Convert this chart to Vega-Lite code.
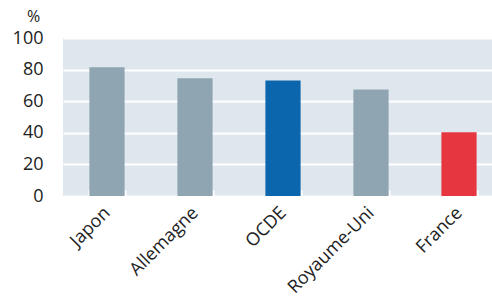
{
  "$schema": "https://vega.github.io/schema/vega-lite/v6.json",
  "autosize": "none",
  "width": 429,
  "height": 158,
  "padding": {"left": 63, "top": 38, "right": 0, "bottom": 101},
  "background": "white",
  "config": {
    "view": {"fill": "#DEE7EE", "stroke": null},
    "font": "Open Sans"
  },
  "data": {
    "values": [
      {"pays": "Japon", "valeur": 81.5, "groupe": "autre"},
      {"pays": "Allemagne", "valeur": 74.5, "groupe": "autre"},
      {"pays": "OCDE", "valeur": 73.1, "groupe": "OCDE"},
      {"pays": "Royaume-Uni", "valeur": 67.4, "groupe": "autre"},
      {"pays": "France", "valeur": 40.3, "groupe": "France"}
    ]
  },
  "mark": {"type": "bar", "clip": true},
  "encoding": {
    "x": {
      "field": "pays",
      "type": "nominal",
      "sort": null,
      "scale": {"range": [0, 440], "paddingInner": 0.6, "paddingOuter": 0.3},
      "axis": {
        "title": null,
        "labelAngle": -45,
        "labelAlign": "right",
        "labelBaseline": "middle",
        "labelFontSize": 18,
        "labelColor": "#222222",
        "labelPadding": 20,
        "domain": false,
        "tickBand": "extent",
        "tickColor": "white",
        "tickSize": -6,
        "tickWidth": 2,
        "grid": false
      }
    },
    "y": {
      "field": "valeur",
      "type": "quantitative",
      "scale": {"domain": [0, 100], "nice": false},
      "axis": {
        "values": [0, 20, 40, 60, 80, 100],
        "title": "%",
        "titleAngle": 0,
        "titleFontSize": 16,
        "titleFontWeight": "normal",
        "titleColor": "#222222",
        "titleX": -30,
        "titleY": -22,
        "titleAlign": "center",
        "titleBaseline": "middle",
        "labelFontSize": 18,
        "labelColor": "#222222",
        "labelPadding": 20,
        "ticks": false,
        "domain": false,
        "grid": true,
        "gridColor": "white",
        "gridWidth": 2
      }
    },
    "color": {
      "field": "groupe",
      "type": "nominal",
      "scale": {"domain": ["autre", "OCDE", "France"], "range": ["#8FA5B2", "#0C66AE", "#E63740"]},
      "legend": null
    }
  }
}
